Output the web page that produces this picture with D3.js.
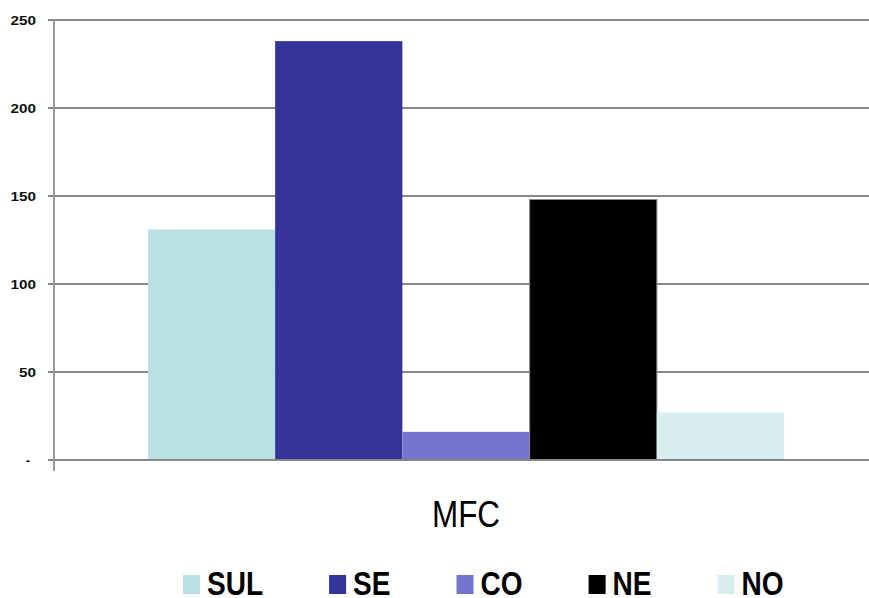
<!DOCTYPE html>
<html>
<head>
<meta charset="utf-8">
<script src="https://cdn.jsdelivr.net/npm/d3@7"></script>
<style>
  html, body { margin: 0; padding: 0; background: #ffffff; }
  svg { display: block; font-family: "Liberation Sans", Arial, sans-serif; }
</style>
</head>
<body>
<svg id="chart" width="869" height="598"></svg>
<script>
// Data
const categories = ["MFC"];
const series = ["SUL", "SE", "CO", "NE", "NO"];
const values = [131, 238, 16, 148, 27];
const colors = ["#bbe0e3", "#333399", "#7474cf", "#000000", "#d9ecee"];
const yTicks = [0, 50, 100, 150, 200, 250];
const yTickLabels = ["-", "50", "100", "150", "200", "250"];

const svg = d3.select("#chart");
const plotLeft = 54, plotRight = 869, plotTop = 20, plotBottom = 460;

const y = d3.scaleLinear().domain([0, 250]).range([plotBottom, plotTop]);
const x0 = d3.scaleBand().domain(categories).range([62, 870]).paddingInner(0).paddingOuter(0.135);
const x1 = d3.scaleBand().domain(series).range([0, x0.bandwidth()]).padding(0);

// Gridlines
svg.append("g")
  .selectAll("line")
  .data(yTicks)
  .join("line")
  .attr("x1", plotLeft - 6)
  .attr("x2", plotRight)
  .attr("y1", d => y(d))
  .attr("y2", d => y(d))
  .attr("stroke", "#878787")
  .attr("stroke-width", 2);

// Bars
const g = svg.append("g");
categories.forEach(cat => {
  g.selectAll("rect.bar")
    .data(series.map((s, i) => ({ s, v: values[i], c: colors[i] })))
    .join("rect")
    .attr("class", "bar")
    .attr("x", d => x0(cat) + x1(d.s))
    .attr("width", x1.bandwidth())
    .attr("y", d => y(d.v))
    .attr("height", d => y(0) - y(d.v))
    .attr("fill", d => d.c)
    .attr("stroke", d => d.s === "NE" ? "#8a8a8a" : "none")
    .attr("stroke-width", 1);
});

// Zero line drawn over the bar bases
svg.append("line")
  .attr("x1", plotLeft - 6).attr("x2", plotRight)
  .attr("y1", y(0)).attr("y2", y(0))
  .attr("stroke", "#878787").attr("stroke-width", 2);

// Vertical axis line
svg.append("line")
  .attr("x1", plotLeft).attr("x2", plotLeft)
  .attr("y1", plotTop).attr("y2", plotBottom + 11)
  .attr("stroke", "#9a9a9a").attr("stroke-width", 2);

// Y tick labels (the zero label is a dash, aligned slightly left)
svg.append("g")
  .selectAll("text")
  .data(yTicks)
  .join("text")
  .attr("x", (d, i) => yTickLabels[i] === "-" ? 30 : 36)
  .attr("y", d => y(d))
  .attr("dy", "0.35em")
  .attr("text-anchor", "end")
  .attr("font-size", 13)
  .attr("font-weight", "bold")
  .attr("fill", "#111")
  .attr("textLength", (d, i) => yTickLabels[i].length === 1 ? null : yTickLabels[i].length * 8.5)
  .attr("lengthAdjust", "spacingAndGlyphs")
  .text((d, i) => yTickLabels[i]);

// Category label
svg.append("g")
  .selectAll("text")
  .data(categories)
  .join("text")
  .attr("x", d => x0(d) + x0.bandwidth() / 2)
  .attr("y", 527)
  .attr("text-anchor", "middle")
  .attr("font-size", 37)
  .attr("fill", "#000")
  .attr("textLength", 68)
  .attr("lengthAdjust", "spacingAndGlyphs")
  .text(d => d);

// Legend: items flow left to right, each sized by its label width
const legend = svg.append("g");
let cursor = 183;
series.forEach((s, i) => {
  const item = legend.append("g").attr("transform", `translate(${cursor},0)`);
  item.append("rect")
    .attr("x", 0).attr("y", 575)
    .attr("width", 17).attr("height", 19)
    .attr("fill", colors[i]);
  const t = item.append("text")
    .attr("x", 24)
    .attr("y", 595)
    .attr("font-size", 33)
    .attr("font-weight", "bold")
    .attr("fill", "#000")
    .text(s);
  const w = t.node().getComputedTextLength() * 0.85;
  t.attr("textLength", w).attr("lengthAdjust", "spacingAndGlyphs");
  cursor += 24 + w + 66;
});
</script>
</body>
</html>
